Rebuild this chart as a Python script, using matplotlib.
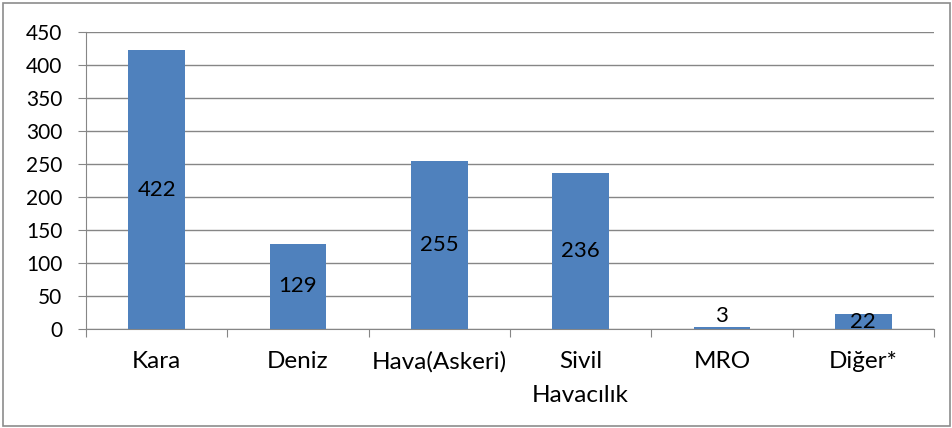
import numpy as np
import matplotlib
matplotlib.use('Agg')
import matplotlib.pyplot as plt
from matplotlib.patches import Rectangle

categories = ['Kara', 'Deniz', 'Hava(Askeri)', 'Sivil\nHavacılık', 'MRO', 'Diğer*']
values = [422, 129, 255, 236, 3, 22]
yticks = np.arange(0, 451, 50)

plt.rcParams['font.family'] = ['Lato', 'DejaVu Sans']
bar_color = '#4F81BD'
grid_color = '#868686'

fig = plt.figure(figsize=(9.53, 4.28), dpi=100)
ax = fig.add_axes([0.0902, 0.2313, 0.8898, 0.6939])

x = np.arange(len(categories))
bars = ax.bar(x, values, width=0.4, color=bar_color, zorder=3)

for xi, v in zip(x, values):
    if v < 10:
        ax.text(xi, v + 2, str(v), ha='center', va='bottom', fontsize=16, zorder=4)
    else:
        ax.text(xi, v / 2, str(v), ha='center', va='center', fontsize=16, zorder=4)

ax.set_xlim(-0.5, len(categories) - 0.5)
ax.set_ylim(0, 450)
ax.set_yticks(yticks)
ax.set_yticklabels([str(t) for t in yticks], fontsize=15)

# category labels between boundary ticks
ax.set_xticks(np.arange(-0.5, len(categories), 1.0))
ax.set_xticklabels([])
ax.set_xticks(x, minor=True)
ax.set_xticklabels(categories, minor=True, fontsize=17.5, linespacing=1.75, va='top')
ax.tick_params(axis='x', which='minor', length=0, pad=16)
ax.tick_params(axis='x', which='major', length=6, color=grid_color, direction='out')
ax.tick_params(axis='y', length=6, color=grid_color, pad=11)

ax.yaxis.grid(True, color=grid_color, linewidth=1, zorder=0)
for s in ['top', 'right']:
    ax.spines[s].set_visible(False)
for s in ['left', 'bottom']:
    ax.spines[s].set_color(grid_color)

fig.patches.append(Rectangle((0.003, 0.004), 0.994, 0.99, transform=fig.transFigure,
                             fill=False, edgecolor='#8c8c8c', linewidth=1.2))

fig.savefig('out.png', dpi=100)
